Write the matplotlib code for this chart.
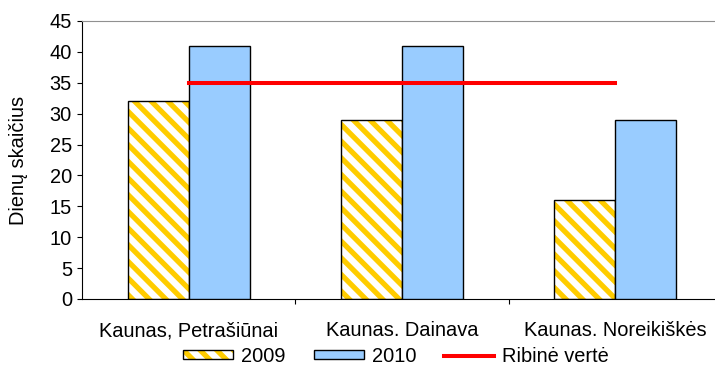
import matplotlib.pyplot as plt
import numpy as np
from matplotlib.patches import Patch
from matplotlib.lines import Line2D

plt.rcParams['font.family'] = ['Liberation Sans', 'DejaVu Sans']
plt.rcParams['hatch.linewidth'] = 3.8

stations = ['Kaunas, Petrašiūnai', 'Kaunas. Dainava', 'Kaunas. Noreikiškės']
days_2009 = [32, 29, 16]
days_2010 = [41, 41, 29]
limit_value = 35

yellow = '#FFCC00'
blue = '#99CCFF'
fs = 14.4
stripes = '\\\\'

fig = plt.figure(figsize=(7.15, 3.65), dpi=100)
ax = fig.add_axes([82 / 715, 66 / 365, 640 / 715, 278 / 365])

x = np.arange(len(stations))
w = 0.286

# 2009 bars: hatch layer first, then the black outline on top
ax.bar(x - w / 2, days_2009, w, facecolor='white', edgecolor=yellow,
       hatch=stripes, linewidth=0, zorder=2)
ax.bar(x - w / 2, days_2009, w, fill=False, edgecolor='black',
       linewidth=1.0, zorder=3)
ax.bar(x + w / 2, days_2010, w, color=blue, edgecolor='black',
       linewidth=1.0, zorder=3)

ax.plot(x, [limit_value] * len(x), color='#FF0000', linewidth=2.9, zorder=4)

ax.set_xlim(-0.5, 2.5)
ax.set_ylim(0, 45)
ax.set_yticks(range(0, 46, 5))
ax.tick_params(axis='y', labelsize=fs, length=3.6, width=0.8, pad=3.6)

ax.set_xticks(x)
ax.set_xticklabels(stations)
ax.tick_params(axis='x', which='major', length=0, labelsize=fs, pad=16)
ax.set_xticks([0.5, 1.5], minor=True)
ax.tick_params(axis='x', which='minor', length=3.6, width=0.8)

ax.spines['top'].set_color('#909090')
ax.spines['right'].set_visible(False)
ax.spines['left'].set_color('black')
ax.spines['bottom'].set_color('black')

fig.text(18.5 / 715, 1 - 160 / 365, 'Dienų skaičius', rotation=90,
         ha='center', va='center', fontsize=fs)

h2009 = (Patch(facecolor='white', edgecolor=yellow, hatch=stripes, linewidth=0),
         Patch(fill=False, edgecolor='black', linewidth=1.0))
h2010 = Patch(facecolor=blue, edgecolor='black', linewidth=1.0)
hlim = Line2D([], [], color='#FF0000', linewidth=2.9)

fig.legend([h2009, h2010, hlim], ['2009', '2010', 'Ribinė vertė'],
           loc='center', bbox_to_anchor=(0.554, 0.024), ncol=3,
           frameon=False, fontsize=fs, handlelength=2.5, handleheight=0.3,
           handletextpad=0.4, columnspacing=1.4, borderpad=0)

fig.savefig('out.png', dpi=100)
